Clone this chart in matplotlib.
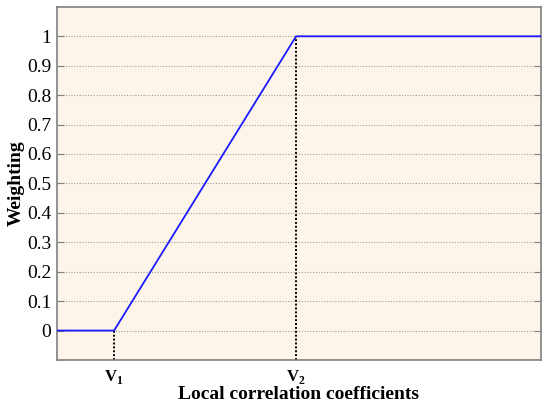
import numpy as np
import matplotlib.pyplot as plt

# piecewise weighting function
x_pts = [0.0, 0.118, 0.494, 1.0]
y_pts = [0.0, 0.0, 1.0, 1.0]
xtick_pos = [0.118, 0.494]
xtick_labels = ['V$_\\mathregular{1}$', 'V$_\\mathregular{2}$']
ytick_vals = [0, 0.1, 0.2, 0.3, 0.4, 0.5, 0.6, 0.7, 0.8, 0.9, 1]
ytick_labels = ['0', '0.1', '0.2', '0.3', '0.4', '0.5', '0.6', '0.7', '0.8', '0.9', '1']

plt.rcParams['font.family'] = ['Liberation Serif', 'DejaVu Serif']

fig = plt.figure(figsize=(5.5, 4.04), dpi=100)
ax = fig.add_axes([0.1036, 0.109, 0.88, 0.874])
ax.set_facecolor('#fdf5ea')

ax.set_xlim(0, 1)
ax.set_ylim(-0.1, 1.1)

# dotted grid lines
for yv in ytick_vals:
    ax.axhline(yv, color='#a0a0a0', linestyle=(0, (1, 1.5)), linewidth=0.8, zorder=1)

# vertical markers at v1, v2
ax.plot([x_pts[1], x_pts[1]], [-0.1, y_pts[1]], color='black', linestyle=(0, (1, 1)), linewidth=1.4, zorder=2)
ax.plot([x_pts[2], x_pts[2]], [-0.1, y_pts[2]], color='black', linestyle=(0, (1, 1)), linewidth=1.4, zorder=2)

ax.plot(x_pts, y_pts, color='#1a1aff', linewidth=1.3, zorder=3)

ax.set_yticks(ytick_vals)
ax.set_yticklabels(ytick_labels, fontsize=14)
ax.set_xticks(xtick_pos)
ax.set_xticklabels(xtick_labels, fontsize=12, fontweight='bold')
ax.tick_params(axis='x', length=0, pad=6)
ax.tick_params(axis='y', direction='in', length=5, color='#808080', right=True, left=True, pad=4)

for s in ax.spines.values():
    s.set_color('#808080')
    s.set_linewidth(1.2)

ax.set_xlabel('Local correlation coefficients', fontsize=14, fontweight='bold', labelpad=0)
ax.set_ylabel('Weighting', fontsize=14, fontweight='bold', labelpad=2)

fig.savefig('out.png', dpi=100)
